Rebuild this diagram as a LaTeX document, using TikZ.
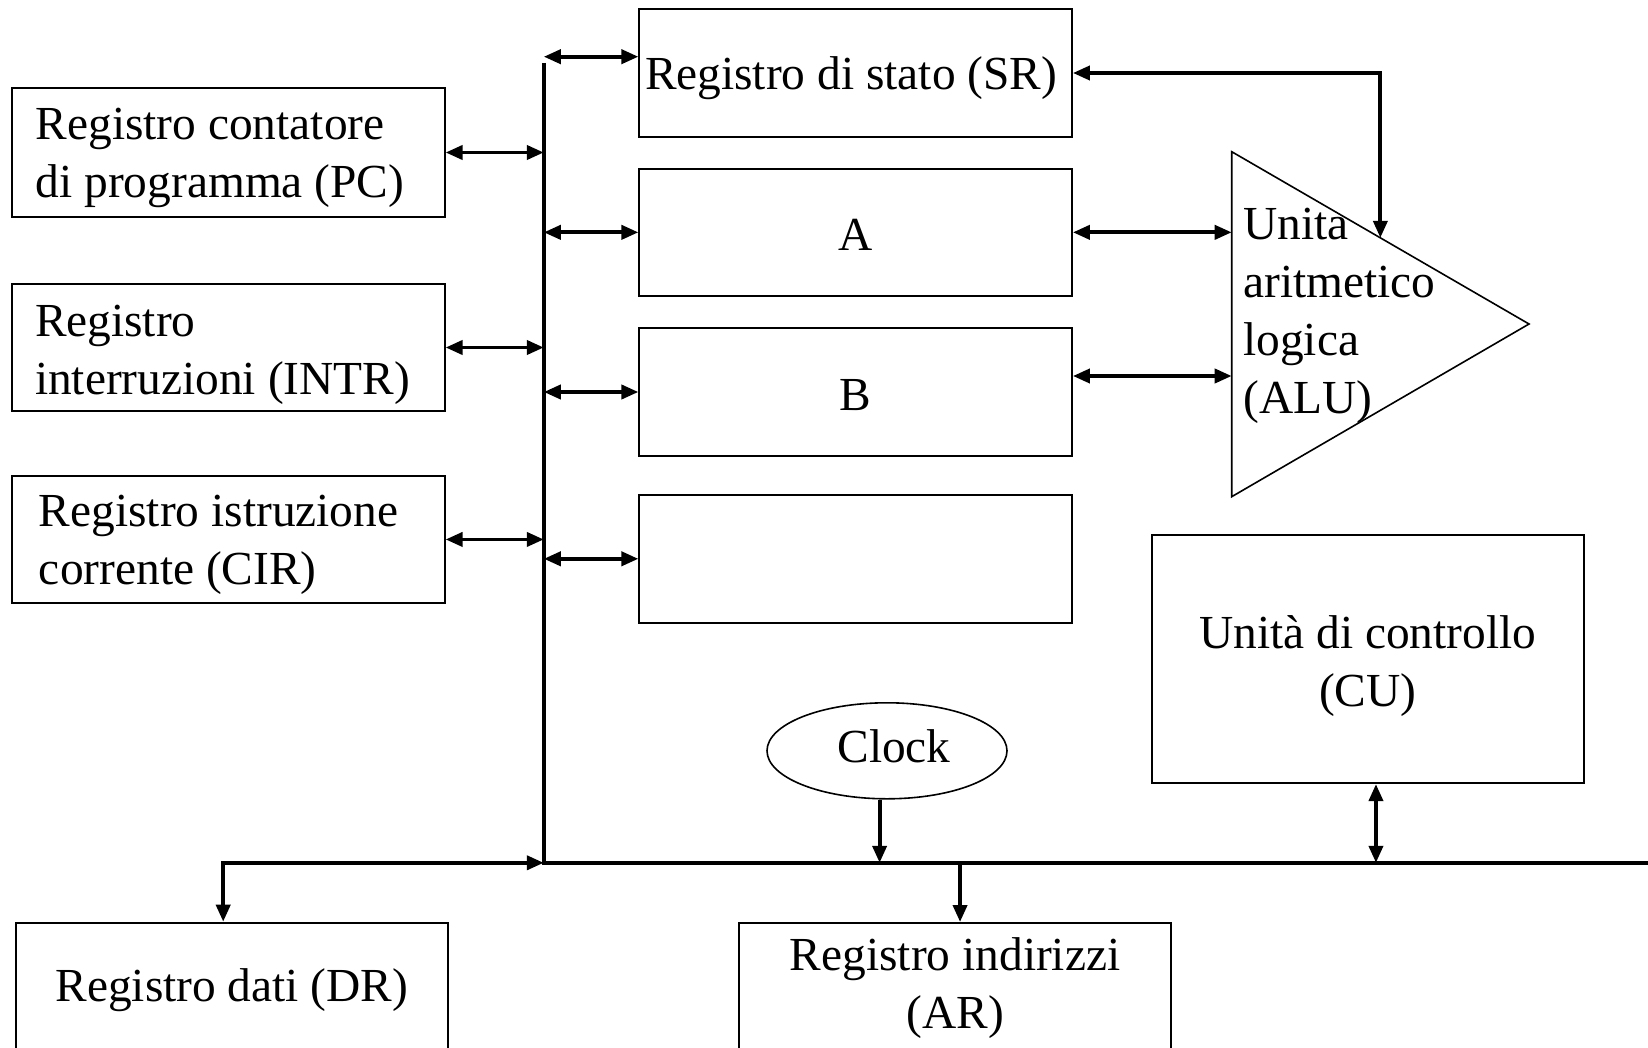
\documentclass[tikz,border=0pt]{standalone}
\usepackage{fontspec}
\setmainfont{Liberation Serif}
\usetikzlibrary{arrows.meta,shapes.geometric,calc}

% stacked lines whose baseline is the last line, with the font's own word spacing
\newcommand\leftlines[1]{{\spaceskip=0pt\xspaceskip=0pt\relax\begin{tabular}[b]{@{}l@{}}#1\end{tabular}}}
\newcommand\centerlines[1]{\begin{tabular}[b]{@{}c@{}}#1\end{tabular}}

\begin{document}
\begin{tikzpicture}[x=0.5pt,y=-0.5pt,
  every node/.style={font=\fontsize{23.7}{29}\selectfont, inner sep=0pt},
  regbox/.style={draw, rectangle, line width=1pt, text depth=0pt},
  link/.style={line width=1.9pt, {Triangle[length=8.5pt,width=7pt]}-{Triangle[length=8.5pt,width=7pt]}},
  arrowto/.style={line width=1.9pt, -{Triangle[length=8.5pt,width=7pt]}},
  busline/.style={line width=2.3pt, line join=miter},
  thinline/.style={line width=0.8pt}
]
\useasboundingbox (0,0) rectangle (1648,1048);
\clip (0,0) rectangle (1648,1048);
\fill[white] (0,0) rectangle (1648,1048);

% left-hand registers
\node[regbox, minimum width=216.3pt, minimum height=64.5pt, text width=192.6pt,
      align=left, text height=45.5pt] (pc) at (228.3,152.5)
      {\leftlines{Registro contatore\\di programma (PC)}};
\node[regbox, minimum width=216.3pt, minimum height=63.5pt, text width=193.3pt,
      align=left, text height=46.5pt] (intr) at (228.3,347.5)
      {\leftlines{Registro\\interruzioni (INTR)}};
\node[regbox, minimum width=216.3pt, minimum height=63.85pt, text width=189.3pt,
      align=left, text height=45.5pt] (cir) at (228.3,539.45)
      {\leftlines{Registro istruzione\\corrente (CIR)}};

% central registers
\node[regbox, minimum width=216.25pt, minimum height=64pt, text width=210.65pt,
      align=left, text height=17pt] (sr) at (855.65,73)
      {\leftlines{Registro di stato (SR)}};
\node[regbox, minimum width=216.25pt, minimum height=63.65pt, text height=17.65pt]
      (ra) at (855.65,232.35) {A};
\node[regbox, minimum width=216.25pt, minimum height=64pt, text height=18pt]
      (rb) at (855.65,392) {B};
\node[regbox, minimum width=216.25pt, minimum height=64.2pt]
      (rc) at (855.65,558.8) {};

% arithmetic logic unit
\coordinate (aluTop) at (1231.7,151.7);
\coordinate (aluTip) at (1529,324);
\coordinate (aluBot) at (1231.7,496.7);
\draw[thinline, line join=miter] (aluTop) -- (aluTip) -- (aluBot) -- cycle;
\node[anchor=base west] (alu) at (1243,413)
      {\leftlines{Unita\\aritmetico\\logica\\(ALU)}};

% control unit and clock
\node[regbox, minimum width=216.15pt, minimum height=124.25pt, text height=47.15pt]
      (cu) at (1367.75,658.85) {\centerlines{Unità di controllo\\(CU)}};
\node[draw, ellipse, thinline, minimum width=120pt, minimum height=48pt,
      text height=11.2pt, text depth=0pt] (clock) at (887,750.8) {\hspace*{7pt}Clock};

% bottom registers
\node[regbox, minimum width=215.85pt, minimum height=64.5pt, text height=40.5pt]
      (ar) at (955.15,987.5) {\centerlines{Registro indirizzi\\(AR)}};
\node[regbox, minimum width=215.9pt, minimum height=68.15pt, text height=10.15pt]
      (dr) at (231.9,990.85) {Registro dati (DR)};

% internal bus
\coordinate (busTop) at (543.8,63);
\coordinate (busCorner) at (543.8,862.8);
\coordinate (busEnd) at (1660,862.8);
\draw[busline] (busTop) -- (busCorner) -- (busEnd);

% register to bus connections
\draw[link] (pc.east) -- (pc.east -| busTop);
\draw[link] (intr.east) -- (intr.east -| busTop);
\draw[link] (cir.east) -- (cir.east -| busTop);
\coordinate (srIn) at ([yshift=8.15pt]sr.west);
\draw[link] (srIn -| busTop) -- (srIn);
\draw[link] (ra.west -| busTop) -- (ra.west);
\draw[link] (rb.west -| busTop) -- (rb.west);
\draw[link] (rc.west -| busTop) -- (rc.west);

% operands and flags of the ALU
\draw[link] (ra.east) -- (ra.east -| aluTop);
\coordinate (rbOut) at ([yshift=8pt]rb.east);
\draw[link] (rbOut) -- (rbOut -| aluTop);
\coordinate (aluFlag) at ($(aluTop)!0.5!(aluTip)$);
\draw[link] (sr.east) -| (aluFlag);

% lower connections
\coordinate (drIn) at ([xshift=-4.35pt]dr.north);
\draw[link] (drIn) |- (busCorner);
\coordinate (clkOut) at ([xshift=-3.7pt]clock.south);
\draw[arrowto] (clkOut) -- (clkOut |- busCorner);
\coordinate (cuOut) at ([xshift=4.1pt]cu.south);
\draw[link] (cuOut) -- (cuOut |- busCorner);
\coordinate (arIn) at ([xshift=2.45pt]ar.north);
\draw[arrowto] (arIn |- busCorner) -- (arIn);
\end{tikzpicture}
\end{document}
